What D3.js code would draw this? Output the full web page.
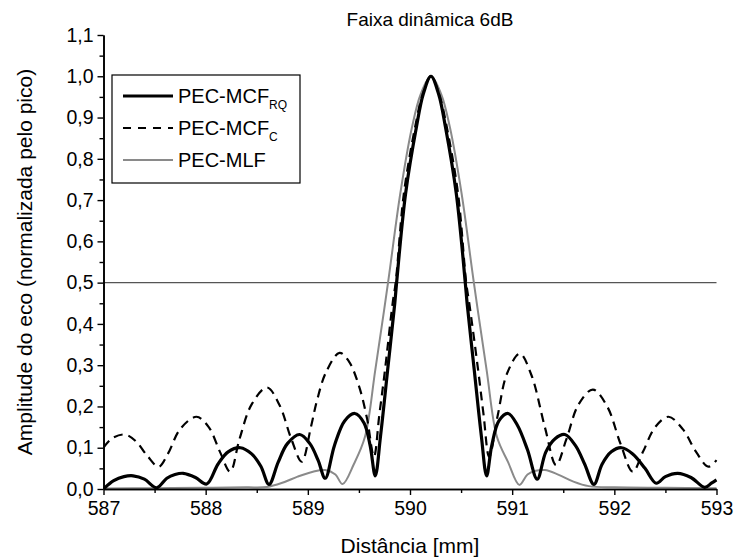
<!DOCTYPE html>
<html><head><meta charset="utf-8">
<script src="https://cdn.jsdelivr.net/npm/d3@7/dist/d3.min.js"></script>
<style>
body{margin:0;background:#fff}
svg{display:block}
text{font-family:"Liberation Sans",Arial,Helvetica,sans-serif;fill:#000}
</style>
</head><body>
<svg id="chart" width="736" height="560"></svg>
<script>
// ---------- data ----------
const title = "Faixa dinâmica 6dB";
const xLabel = "Distância [mm]";
const yLabel = "Amplitude do eco (normalizada pelo pico)";
const xTickValues = [587, 588, 589, 590, 591, 592, 593];
const yTickValues = [0, 0.1, 0.2, 0.3, 0.4, 0.5, 0.6, 0.7, 0.8, 0.9, 1.0, 1.1];
const refLevel = 0.5;

// PEC-MCF_RQ (solid black)
const rqX = [587.00,587.10,587.20,587.29,587.40,587.52,587.62,587.70,587.78,587.90,588.01,588.12,588.22,588.34,588.45,588.54,588.62,588.71,588.80,588.92,589.02,589.10,589.17,589.26,589.36,589.46,589.55,589.61,589.66,
  589.711,589.781,589.851,589.869,589.957,590.063,590.130,590.205,590.280,590.347,590.453,590.541,590.559,590.629,590.699,590.750,
  590.80,590.87,590.96,591.05,591.15,591.245,591.33,591.42,591.516,591.62,591.71,591.80,591.88,591.97,592.07,592.18,592.30,592.41,592.50,592.62,592.75,592.885,592.95,593.00];
const rqY = [0.000,0.020,0.030,0.032,0.024,0.003,0.026,0.035,0.038,0.028,0.012,0.060,0.090,0.100,0.085,0.055,0.011,0.065,0.110,0.132,0.110,0.070,0.026,0.105,0.165,0.183,0.160,0.105,0.032,
  0.127,0.288,0.450,0.500,0.716,0.877,0.957,1.000,0.957,0.877,0.716,0.500,0.450,0.288,0.127,0.032,
  0.105,0.165,0.183,0.155,0.095,0.024,0.090,0.122,0.132,0.105,0.060,0.011,0.060,0.090,0.100,0.085,0.050,0.014,0.030,0.038,0.028,0.004,0.014,0.022];

// PEC-MCF_C (dashed black)
const cX = [587.00,587.08,587.21,587.32,587.43,587.54,587.63,587.75,587.91,588.03,588.14,588.24,588.33,588.45,588.60,588.72,588.84,588.94,589.03,589.09,589.18,589.31,589.40,589.50,589.58,589.647,
  589.70,589.755,589.83,589.86,589.94,590.05,590.125,590.205,590.285,590.36,590.47,590.55,590.58,590.667,590.72,590.775,
  590.86,590.95,591.075,591.19,591.32,591.43,591.53,591.65,591.79,591.93,592.06,592.18,592.28,592.40,592.53,592.67,592.80,592.92,593.00];
const cY = [0.100,0.122,0.132,0.115,0.080,0.054,0.085,0.145,0.175,0.150,0.090,0.042,0.120,0.205,0.246,0.205,0.120,0.066,0.150,0.215,0.284,0.330,0.310,0.250,0.170,0.078,
  0.180,0.288,0.450,0.500,0.716,0.877,0.957,1.000,0.957,0.877,0.716,0.500,0.450,0.288,0.180,0.078,
  0.180,0.280,0.328,0.275,0.150,0.058,0.120,0.205,0.241,0.200,0.110,0.042,0.090,0.150,0.175,0.145,0.090,0.054,0.070];

// PEC-MLF (grey)
const mlfX = [587.00,587.50,588.00,588.40,588.60,588.75,588.90,589.05,589.17,589.27,589.34,589.45,589.56,589.66,589.785,589.905,590.02,590.105,590.205,590.305,590.39,590.505,590.625,590.75,590.85,590.96,591.07,591.15,591.23,591.32,591.45,591.60,591.75,592.00,592.50,593.00];
const mlfY = [0.001,0.002,0.003,0.004,0.005,0.015,0.030,0.042,0.046,0.035,0.012,0.060,0.127,0.288,0.500,0.716,0.877,0.957,1.000,0.957,0.877,0.716,0.500,0.288,0.127,0.065,0.010,0.035,0.044,0.046,0.035,0.018,0.007,0.004,0.003,0.002];

const seriesNames = ["PEC-MCF", "PEC-MCF", "PEC-MLF"];
const seriesSubs = ["RQ", "C", ""];

// ---------- layout ----------
const svg = d3.select("#chart");
const mLeft = 103.5, mRight = 716.5, mTop = 35, mBottom = 489;

const x = d3.scaleLinear().domain([587, 593]).range([mLeft, mRight]);
const y = d3.scaleLinear().domain([0, 1.1]).range([mBottom, mTop]);

const fmt = v => d3.format(".1f")(v).replace(".", ",");

// clip
svg.append("defs").append("clipPath").attr("id", "clip")
  .append("rect").attr("x", mLeft).attr("y", mTop - 5).attr("width", mRight - mLeft + 1).attr("height", mBottom - mTop + 5);

// reference line at 0.5
svg.append("line")
  .attr("x1", x(587)).attr("x2", x(593))
  .attr("y1", y(refLevel)).attr("y2", y(refLevel))
  .attr("stroke", "#555").attr("stroke-width", 1.3);

// curves
const line = d3.line().x(d => x(d[0])).y(d => y(d[1])).curve(d3.curveCatmullRom.alpha(0.5));
const zip = (a, b) => a.map((v, i) => [v, b[i]]);
const g = svg.append("g").attr("clip-path", "url(#clip)");

g.append("path").datum(zip(mlfX, mlfY)).attr("d", line)
  .attr("fill", "none").attr("stroke", "#8a8a8a").attr("stroke-width", 2);
g.append("path").datum(zip(cX, cY)).attr("d", line)
  .attr("fill", "none").attr("stroke", "#000").attr("stroke-width", 2.2).attr("stroke-dasharray", "9,6");
g.append("path").datum(zip(rqX, rqY)).attr("d", line)
  .attr("fill", "none").attr("stroke", "#000").attr("stroke-width", 3.2);

// axes
const xAxis = d3.axisBottom(x).tickValues(xTickValues).tickFormat(d3.format("d")).tickSizeInner(6).tickSizeOuter(0).tickPadding(6);
const xMinor = d3.axisBottom(x).tickValues(d3.range(587.5, 593, 1)).tickFormat("").tickSizeInner(4).tickSizeOuter(0);
const yAxis = d3.axisLeft(y).tickValues(yTickValues).tickFormat(fmt).tickSizeInner(6).tickSizeOuter(0).tickPadding(4);
const yMinor = d3.axisLeft(y).tickValues(d3.range(0.05, 1.1, 0.1)).tickFormat("").tickSizeInner(4).tickSizeOuter(0);

function styleAxis(sel, fs) {
  sel.select(".domain").attr("stroke", "#000").attr("stroke-width", 1.6);
  sel.selectAll(".tick line").attr("stroke", "#000").attr("stroke-width", 1.4);
  sel.selectAll(".tick text").attr("font-size", fs).attr("fill", "#000")
     .attr("font-family", '"Liberation Sans", Arial, sans-serif');
}
svg.append("g").attr("transform", `translate(0,${mBottom})`).call(xMinor).call(s => styleAxis(s, 0));
svg.append("g").attr("transform", `translate(${mLeft},0)`).call(yMinor).call(s => styleAxis(s, 0));
svg.append("g").attr("transform", `translate(0,${mBottom})`).call(xAxis).call(s => styleAxis(s, 19.5));
svg.append("g").attr("transform", `translate(${mLeft},0)`).call(yAxis).call(s => styleAxis(s, 19.5));

// title & labels
svg.append("text").attr("x", 430).attr("y", 26).attr("text-anchor", "middle").attr("font-size", 19).text(title);
svg.append("text").attr("x", x(590)).attr("y", 553).attr("text-anchor", "middle").attr("font-size", 21).text(xLabel);
svg.append("text").attr("transform", `translate(32,${(mTop + mBottom) / 2}) rotate(-90)`)
  .attr("text-anchor", "middle").attr("font-size", 21).text(yLabel);

// legend
const lg = svg.append("g");
lg.append("rect").attr("x", 112).attr("y", 75).attr("width", 188).attr("height", 108)
  .attr("fill", "#fff").attr("stroke", "#000").attr("stroke-width", 1.2);
const lStyles = [
  {stroke: "#000", w: 3.2, dash: null},
  {stroke: "#000", w: 2.2, dash: "8,7"},
  {stroke: "#8a8a8a", w: 2, dash: null}
];
const rowsY = [96, 128, 160];
seriesNames.forEach((n, i) => {
  lg.append("line").attr("x1", 123).attr("x2", 173).attr("y1", rowsY[i]).attr("y2", rowsY[i])
    .attr("stroke", lStyles[i].stroke).attr("stroke-width", lStyles[i].w)
    .attr("stroke-dasharray", lStyles[i].dash);
  const t = lg.append("text").attr("x", 178).attr("y", rowsY[i] + 7).attr("font-size", 20).text(n);
  if (seriesSubs[i]) t.append("tspan").attr("font-size", 12).attr("dy", 6).text(seriesSubs[i]);
});
</script>
</body></html>
